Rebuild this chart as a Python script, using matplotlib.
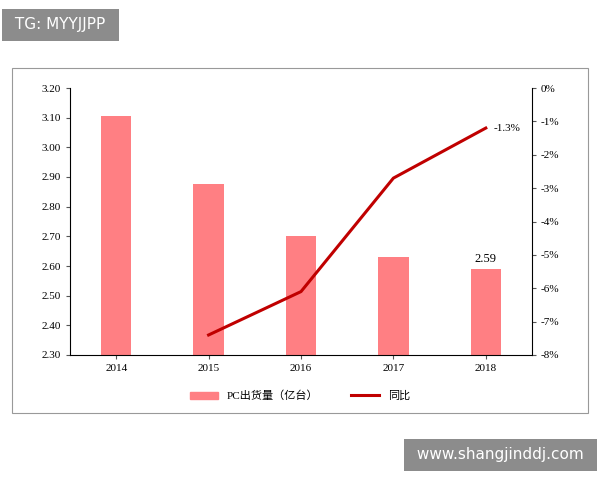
import matplotlib
matplotlib.use('Agg')
import matplotlib.pyplot as plt
from matplotlib.patches import Rectangle

years = ['2014', '2015', '2016', '2017', '2018']
shipments = [3.105, 2.875, 2.70, 2.63, 2.59]
yoy_years = ['2015', '2016', '2017', '2018']
yoy = [-7.4, -6.1, -2.7, -1.2]

serif = ['Liberation Serif', 'Noto Sans CJK SC']
cjk = ['Liberation Serif', 'Noto Sans CJK SC']

fig = plt.figure(figsize=(6, 4.8), dpi=100)
fig.patches.append(Rectangle((12 / 600, 1 - 413 / 480), 576 / 600, 345 / 480,
                             transform=fig.transFigure, fill=False,
                             edgecolor='#999999', lw=0.8))

ax = fig.add_axes([70 / 600, 1 - 355 / 480, 462 / 600, 267 / 480])
x = list(range(len(years)))
ax.bar(x, shipments, width=0.33, color='#ff7f83', zorder=2)
ax.set_ylim(2.30, 3.20)
ax.set_yticks([2.30 + 0.1 * i for i in range(10)])
ax.set_yticklabels(['%.2f' % (2.30 + 0.1 * i) for i in range(10)], family=serif, fontsize=8)
ax.set_xticks(x)
ax.set_xticklabels(years, family=serif, fontsize=8)
ax.set_xlim(-0.5, 4.5)
ax.text(4, shipments[4] + 0.015, '2.59', ha='center', va='bottom', family=serif, fontsize=9)
for s in ['top', 'right']:
    ax.spines[s].set_visible(False)
ax.tick_params(length=3, color='#555555')

ax2 = ax.twinx()
xl = [years.index(y) for y in yoy_years]
ax2.plot(xl, yoy, color='#c00000', lw=2.2, label='同比')
ax2.set_ylim(-8, 0)
ax2.set_yticks(range(-8, 1))
ax2.set_yticklabels(['%d%%' % v for v in range(-8, 1)], family=serif, fontsize=8)
ax2.text(xl[-1] + 0.08, yoy[-1], '-1.3%', va='center', family=serif, fontsize=8)
for s in ['top', 'left', 'bottom']:
    ax2.spines[s].set_visible(False)
ax2.tick_params(length=3, color='#555555')

h1 = Rectangle((0, 0), 1, 1, color='#ff7f83')
h2 = plt.Line2D([0], [0], color='#c00000', lw=2.2)
fig.legend([h1, h2], ['PC出货量（亿台）', '同比'], loc='center',
           bbox_to_anchor=(300 / 600, 1 - 396 / 480), ncol=2, frameon=False,
           prop={'family': cjk, 'size': 8}, handlelength=2.5, columnspacing=3)

fig.text(10 / 600, 1 - 25 / 480, ' TG: MYYJJPP ', color='white', fontsize=11, va='center',
         bbox=dict(facecolor='#8c8c8c', edgecolor='none', pad=6))
fig.text(412 / 600, 1 - 455 / 480, ' www.shangjinddj.com ', color='white', fontsize=11, va='center',
         bbox=dict(facecolor='#8c8c8c', edgecolor='none', pad=6))

fig.savefig('out.png', dpi=100)
